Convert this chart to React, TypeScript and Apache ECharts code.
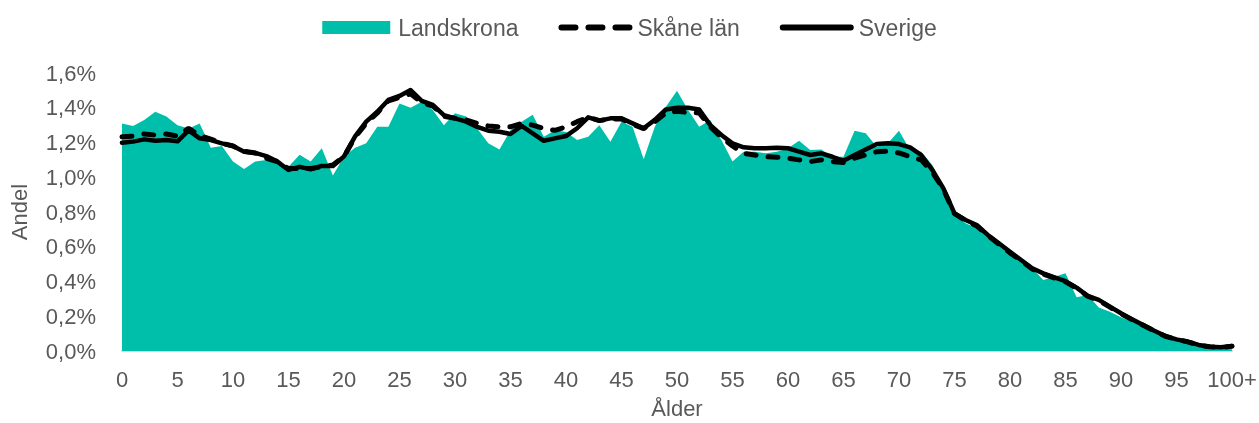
import React, { useEffect, useRef } from "react";
import * as echarts from "echarts";

const ages: string[] = [];
for (let i = 0; i < 100; i++) ages.push(String(i));
ages.push("100+");

const landskrona = [
  1.31, 1.295, 1.33, 1.377, 1.35, 1.30, 1.28, 1.31, 1.17, 1.18,
  1.09, 1.047, 1.09, 1.10, 1.09, 1.06, 1.13, 1.09, 1.167, 1.01,
  1.12, 1.17, 1.195, 1.29, 1.29, 1.425, 1.40, 1.435, 1.387, 1.30,
  1.368, 1.35, 1.28, 1.195, 1.16, 1.27, 1.32, 1.36, 1.233, 1.27,
  1.26, 1.214, 1.233, 1.30, 1.205, 1.32, 1.29, 1.103, 1.29, 1.406,
  1.498, 1.387, 1.29, 1.33, 1.214, 1.09, 1.147, 1.147, 1.138, 1.147,
  1.167, 1.21, 1.157, 1.16, 1.118, 1.118, 1.268, 1.253, 1.176, 1.195,
  1.268, 1.157, 1.147, 1.07, 0.946, 0.792, 0.735, 0.706, 0.658, 0.61,
  0.562, 0.514, 0.476, 0.409, 0.428, 0.447, 0.309, 0.322, 0.251, 0.226,
  0.194, 0.169, 0.14, 0.117, 0.082, 0.063, 0.05, 0.035, 0.021, 0.013,
  0.01,
];

const skane = [
  1.233, 1.237, 1.249, 1.243, 1.249, 1.237, 1.282, 1.24, 1.22, 1.195,
  1.18, 1.15, 1.14, 1.11, 1.09, 1.05, 1.05, 1.05, 1.06, 1.07,
  1.12, 1.23, 1.31, 1.37, 1.44, 1.46, 1.48, 1.43, 1.41, 1.35,
  1.34, 1.33, 1.31, 1.295, 1.29, 1.29, 1.31, 1.30, 1.28, 1.27,
  1.29, 1.32, 1.345, 1.326, 1.335, 1.335, 1.305, 1.28, 1.32, 1.37,
  1.38, 1.372, 1.37, 1.29, 1.23, 1.18, 1.138, 1.128, 1.118, 1.115,
  1.11, 1.10, 1.09, 1.10, 1.09, 1.085, 1.11, 1.128, 1.147, 1.15,
  1.14, 1.118, 1.10, 1.03, 0.93, 0.79, 0.75, 0.72, 0.665, 0.615,
  0.565, 0.52, 0.472, 0.442, 0.42, 0.398, 0.362, 0.315, 0.29, 0.252,
  0.214, 0.18, 0.148, 0.115, 0.085, 0.066, 0.053, 0.034, 0.024, 0.02,
  0.027,
];

const sverige = [
  1.199, 1.205, 1.218, 1.21, 1.214, 1.207, 1.27, 1.224, 1.214, 1.195,
  1.18, 1.147, 1.14, 1.122, 1.09, 1.042, 1.06, 1.046, 1.065, 1.065,
  1.12, 1.235, 1.32, 1.377, 1.445, 1.468, 1.502, 1.44, 1.416, 1.358,
  1.339, 1.32, 1.29, 1.268, 1.262, 1.249, 1.295, 1.253, 1.21, 1.224,
  1.237, 1.282, 1.345, 1.326, 1.339, 1.339, 1.31, 1.282, 1.33, 1.39,
  1.40, 1.40, 1.39, 1.30, 1.243, 1.195, 1.172, 1.167, 1.167, 1.17,
  1.167, 1.147, 1.128, 1.138, 1.118, 1.095, 1.128, 1.16, 1.191, 1.195,
  1.191, 1.172, 1.128, 1.042, 0.936, 0.792, 0.754, 0.725, 0.668, 0.62,
  0.571, 0.524, 0.476, 0.447, 0.424, 0.402, 0.365, 0.317, 0.294, 0.255,
  0.217, 0.182, 0.15, 0.117, 0.086, 0.067, 0.054, 0.035, 0.025, 0.021,
  0.029,
];

const TEAL = "#00BFAA";
const TEXT = "#595959";
const FONT = "Liberation Sans, Arial, sans-serif";

export default function App() {
  const ref = useRef<HTMLDivElement>(null);
  useEffect(() => {
    if (!ref.current) return;
    const chart = echarts.init(ref.current, null, { renderer: "svg" });
    chart.setOption({
      animation: false,
      textStyle: { fontFamily: FONT, color: TEXT },
      legend: {
        top: 11,
        left: "center",
        itemGap: 40,
        itemWidth: 68,
        itemHeight: 13,
        textStyle: {
          fontSize: 23,
          color: TEXT,
          fontFamily: FONT,
          padding: [0, 0, 0, 3],
        },
        data: [
          { name: "Landskrona", icon: "rect" },
          {
            name: "Skåne län",
            itemStyle: { opacity: 0 },
            lineStyle: { width: 6, type: [14, 13], cap: "round", color: "#000000" },
          },
          {
            name: "Sverige",
            itemStyle: { opacity: 0 },
            lineStyle: { width: 6, cap: "round", color: "#000000" },
          },
        ],
      },
      grid: { left: 122, right: 27, top: 73, bottom: 72, outerBoundsMode: "none" },
      xAxis: {
        type: "category",
        data: ages,
        boundaryGap: false,
        name: "Ålder",
        nameLocation: "middle",
        nameGap: 46,
        nameTextStyle: { fontSize: 22, color: TEXT, fontFamily: FONT },
        axisLine: { show: true, lineStyle: { color: "#D9D9D9", width: 2 } },
        axisTick: { show: false },
        axisLabel: {
          interval: 4,
          margin: 17,
          fontSize: 22,
          color: TEXT,
          fontFamily: FONT,
        },
        splitLine: { show: false },
      },
      yAxis: {
        type: "value",
        min: 0,
        max: 1.6,
        interval: 0.2,
        name: "Andel",
        nameLocation: "middle",
        nameGap: 92,
        nameTextStyle: { fontSize: 22, color: TEXT, fontFamily: FONT },
        axisLine: { show: false },
        axisTick: { show: false },
        splitLine: { show: false },
        axisLabel: {
          margin: 26,
          fontSize: 22,
          color: TEXT,
          fontFamily: FONT,
          formatter: (v: number) => v.toFixed(1).replace(".", ",") + "%",
        },
      },
      series: [
        {
          name: "Landskrona",
          type: "line",
          data: landskrona,
          symbol: "none",
          lineStyle: { width: 0, color: TEAL },
          itemStyle: { color: TEAL },
          areaStyle: { color: TEAL, opacity: 1 },
        },
        {
          name: "Skåne län",
          type: "line",
          data: skane,
          symbol: "none",
          itemStyle: { color: "#000000" },
          lineStyle: {
            color: "#000000",
            width: 5,
            type: [10, 12],
            cap: "round",
          },
        },
        {
          name: "Sverige",
          type: "line",
          data: sverige,
          symbol: "none",
          itemStyle: { color: "#000000" },
          lineStyle: { color: "#000000", width: 4.5, cap: "round", join: "round" },
        },
      ],
    });
    return () => chart.dispose();
  }, []);
  return (
    <div
      ref={ref}
      style={{ position: "fixed", left: 0, top: 0, width: 1259, height: 423 }}
    />
  );
}
